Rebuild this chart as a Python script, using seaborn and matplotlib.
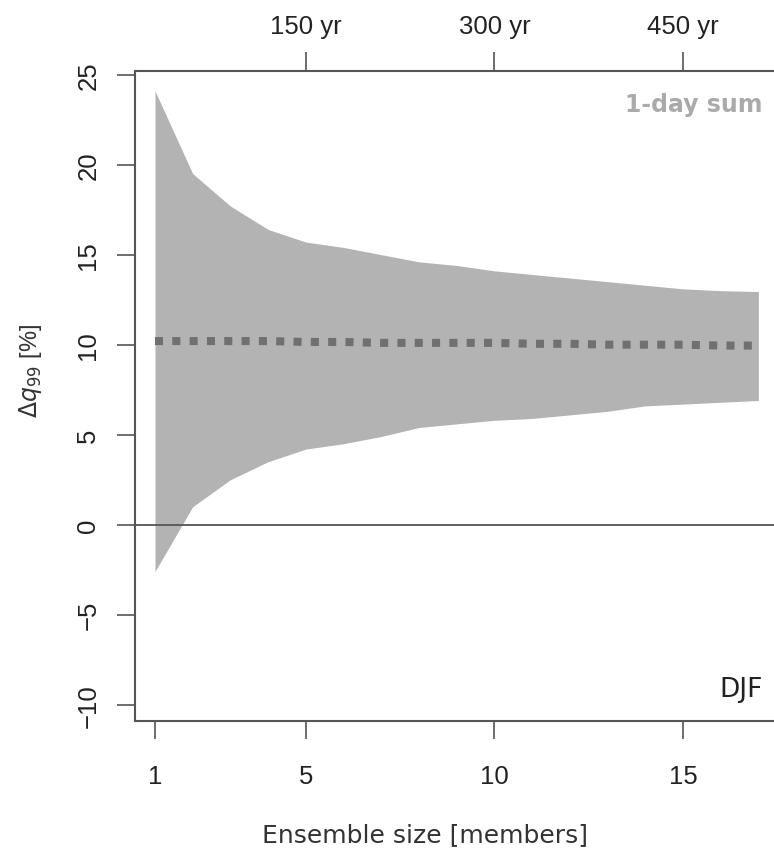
import numpy as np
import pandas as pd
import matplotlib
matplotlib.use("Agg")
import matplotlib.pyplot as plt
import seaborn as sns

sns.set_theme(style="white")
plt.rcParams['font.family'] = ['Liberation Sans Narrow', 'Liberation Sans', 'DejaVu Sans']

# ensemble size and spread of delta q99
members = np.arange(1, 18)
upper = [24.1, 19.5, 17.7, 16.4, 15.7, 15.4, 15.0, 14.6, 14.4, 14.1, 13.9, 13.7, 13.5, 13.3, 13.1, 13.0, 12.95]
lower = [-2.6, 1.0, 2.5, 3.5, 4.2, 4.5, 4.9, 5.4, 5.6, 5.8, 5.9, 6.1, 6.3, 6.6, 6.7, 6.8, 6.9]
mean = [10.2, 10.2, 10.2, 10.2, 10.15, 10.15, 10.1, 10.1, 10.1, 10.1, 10.05, 10.05, 10.0, 10.0, 10.0, 9.95, 9.95]

x_ticks = [1, 5, 10, 15]
y_ticks = [-10, -5, 0, 5, 10, 15, 20, 25]
top_ticks = [5, 10, 15]
top_labels = ["150 yr", "300 yr", "450 yr"]

df = pd.DataFrame({"members": members, "mean": mean})

fig = plt.figure(figsize=(7.74, 8.53), dpi=100)
ax = fig.add_axes([0.1744, 0.1536, 0.84, 0.762])

ax.fill_between(members, lower, upper, color="#b3b3b3", linewidth=0)
sns.lineplot(data=df, x="members", y="mean", ax=ax, color="#707070",
             linewidth=5.8, linestyle=(0, (1.0, 1.15)))
ax.axhline(0, color="#555555", linewidth=1.3, zorder=1)

ax.set_xlim(0.47, 17.71)
ax.set_ylim(-10.9, 25.2)

ax.set_xticks(x_ticks)
ax.set_yticks(y_ticks)
ax.set_yticklabels([str(v).replace("-", "\u2212") for v in y_ticks], rotation=90, va="center")
ax.tick_params(axis="both", direction="out", length=13, width=1.2,
               color="#555555", labelcolor="#222222", labelsize=18.5)
ax.tick_params(axis="x", pad=18, bottom=True)
ax.tick_params(axis="y", pad=12, left=True)

for s in ax.spines.values():
    s.set_color("#555555")
    s.set_linewidth(1.5)

top = ax.secondary_xaxis("top")
top.set_xticks(top_ticks)
top.set_xticklabels(top_labels)
top.tick_params(direction="out", length=14, width=1.2, color="#555555",
                labelcolor="#222222", labelsize=18.5, pad=10)
top.spines["top"].set_visible(False)

ax.set_xlabel("Ensemble size [members]", fontsize=18, color="#333333",
              family=["DejaVu Sans"])
ax.xaxis.set_label_coords(0.446, -0.155)
ax.set_ylabel(r"$\Delta q_{99}$ [%]", fontsize=17, color="#333333")
ax.yaxis.set_label_coords(-0.14, 0.54)

ax.text(0.985, 0.877, "1-day sum", transform=fig.transFigure, ha="right", va="center",
        fontsize=17, fontweight="bold", color="#aaaaaa", family=["DejaVu Sans"])
ax.text(0.985, 0.191, "DJF", transform=fig.transFigure, ha="right", va="center",
        fontsize=19, color="#222222", family=["DejaVu Sans"])

fig.savefig("out.png", dpi=100)
